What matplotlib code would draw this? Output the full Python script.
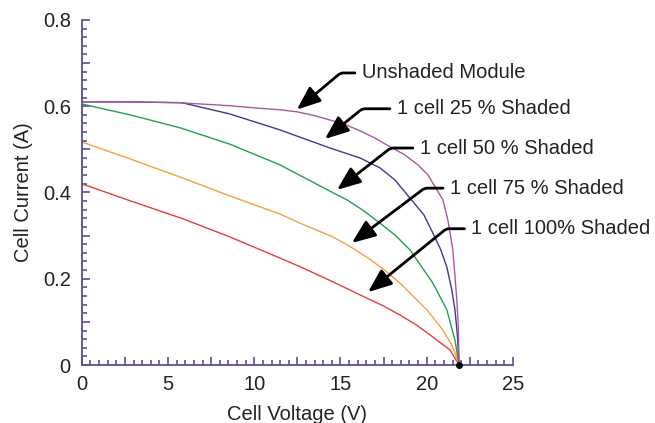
import numpy as np
import matplotlib
matplotlib.use("Agg")
import matplotlib.pyplot as plt
from matplotlib.ticker import MultipleLocator, FuncFormatter

plt.rcParams['font.family'] = ['Liberation Sans', 'DejaVu Sans']

# I-V curves (V in volts, I in amps)
v_unshaded = [0, 2.78, 5.68, 8.58, 10.33, 11.4, 12.47, 13.4, 14.39, 15.3, 16.13, 17.0, 17.87, 18.74,
              19.49, 20.07, 20.53, 20.94, 21.23, 21.52, 21.75, 21.84, 21.88]
i_unshaded = [0.610, 0.610, 0.608, 0.601, 0.595, 0.592, 0.587, 0.579, 0.568, 0.557, 0.543, 0.526, 0.506,
              0.487, 0.464, 0.441, 0.410, 0.383, 0.336, 0.267, 0.151, 0.081, 0.0]

v_25 = [0, 2.78, 5.80, 8.58, 11.49, 14.39, 16.13, 17.29, 18.16, 19.03, 19.84, 20.36, 20.82, 21.17,
        21.46, 21.64, 21.78, 21.88]
i_25 = [0.610, 0.610, 0.608, 0.582, 0.545, 0.503, 0.480, 0.457, 0.429, 0.387, 0.348, 0.306, 0.267, 0.227,
        0.174, 0.128, 0.070, 0.0]

v_50 = [0, 2.78, 5.68, 8.58, 11.49, 14.39, 15.37, 16.3, 17.29, 18.2, 19.03, 20.36, 21.17, 21.64, 21.88]
i_50 = [0.605, 0.580, 0.550, 0.512, 0.464, 0.403, 0.383, 0.359, 0.329, 0.300, 0.267, 0.190, 0.128,
        0.058, 0.0]

v_75 = [0, 2.78, 5.68, 8.58, 11.49, 12.65, 14.56, 15.5, 16.53, 17.5, 18.45, 20.01, 20.94, 21.52, 21.88]
i_75 = [0.517, 0.478, 0.436, 0.392, 0.350, 0.329, 0.297, 0.276, 0.250, 0.222, 0.190, 0.128, 0.081,
        0.042, 0.0]

v_100 = [0, 2.78, 5.86, 8.58, 11.49, 12.65, 14.56, 16.53, 17.5, 18.45, 19.4, 20.36, 21.35, 21.88]
i_100 = [0.420, 0.381, 0.339, 0.297, 0.248, 0.228, 0.193, 0.155, 0.137, 0.116, 0.093, 0.065, 0.035, 0.0]

voc = 21.88

labels = ['Unshaded Module', '1 cell 25 % Shaded', '1 cell 50 % Shaded',
          '1 cell 75 % Shaded', '1 cell 100% Shaded']

axis_col = '#5a4f98'
txt_col = '#222222'
fs = 14.5

fig = plt.figure(figsize=(6.55, 4.23), dpi=100)
ax = fig.add_axes([0.125, 0.137, 0.658, 0.816])

line_kw = dict(lw=1.0, solid_joinstyle='round', solid_capstyle='round')
ax.plot(v_100, i_100, color='#e2403c', **line_kw)
ax.plot(v_75, i_75, color='#f5a043', **line_kw)
ax.plot(v_50, i_50, color='#23a050', **line_kw)
ax.plot(v_25, i_25, color='#3e3a8c', **line_kw)
ax.plot(v_unshaded, i_unshaded, color='#a85a9e', **line_kw)
ax.plot([voc], [0], 'o', color='black', ms=4, clip_on=False, zorder=5)

ax.set_xlim(0, 25)
ax.set_ylim(0, 0.8)

for s in ['top', 'right']:
    ax.spines[s].set_visible(False)
for s in ['left', 'bottom']:
    ax.spines[s].set_color(axis_col)
    ax.spines[s].set_linewidth(1.3)

ax.xaxis.set_major_locator(MultipleLocator(2.5))
ax.xaxis.set_minor_locator(MultipleLocator(0.5))
ax.yaxis.set_major_locator(MultipleLocator(0.1))
ax.yaxis.set_minor_locator(MultipleLocator(0.02))


def xfmt(v, pos):
    if abs(v / 5 - round(v / 5)) < 1e-6:
        return '%d' % round(v)
    return ''


def yfmt(v, pos):
    if abs(v / 0.2 - round(v / 0.2)) < 1e-6:
        return '0' if abs(v) < 1e-9 else '%.1f' % v
    return ''


ax.xaxis.set_major_formatter(FuncFormatter(xfmt))
ax.yaxis.set_major_formatter(FuncFormatter(yfmt))

ax.tick_params(which='both', direction='in', color=axis_col, width=1.2,
               labelsize=fs, labelcolor=txt_col)
ax.tick_params(which='major', length=6)
ax.tick_params(which='minor', length=3.5)
ax.tick_params(axis='x', which='major', pad=7)
ax.tick_params(axis='y', which='major', pad=8)

ax.set_xlabel('Cell Voltage (V)', fontsize=fs, color=txt_col, labelpad=8)
ax.set_ylabel('Cell Current (A)', fontsize=fs, color=txt_col, labelpad=7)

# leader arrows: (text left point, arrow tip, slope of the slanted part)
notes = [
    ((16.24, 0.677), (12.47, 0.592), 40),
    ((18.27, 0.594), (14.10, 0.524), 39),
    ((19.60, 0.503), (14.80, 0.406), 38),
    ((21.35, 0.410), (15.66, 0.283), 37),
    ((22.60, 0.316), (16.60, 0.169), 39),
]
for lab, (txy, tip, ang) in zip(labels, notes):
    ax.annotate(lab, xy=tip, xytext=txy, ha='left', va='center',
                fontsize=fs, color=txt_col, annotation_clip=False,
                arrowprops=dict(arrowstyle='-|>,head_length=0.8,head_width=0.32',
                                connectionstyle='angle,angleA=0,angleB=%d,rad=3' % ang,
                                color='black', lw=2.0, relpos=(0, 0.5),
                                shrinkA=3, shrinkB=0, mutation_scale=18))

fig.savefig('out.png', dpi=100)
